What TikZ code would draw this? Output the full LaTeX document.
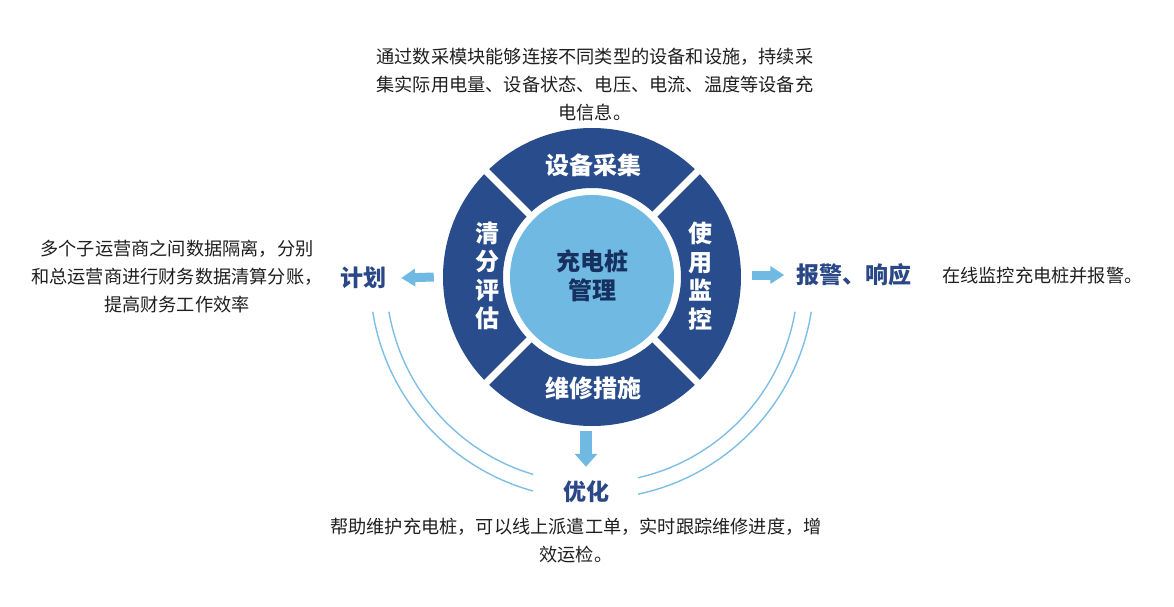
\documentclass[tikz,border=0pt]{standalone}
\usepackage{fontspec}
\setmainfont{Noto Sans CJK SC}
\usetikzlibrary{arrows.meta}

\definecolor{ringblau}{RGB}{40,76,140}
\definecolor{hellblau}{RGB}{112,185,226}
\definecolor{bogenblau}{RGB}{125,190,228}
\definecolor{titelblau}{RGB}{42,72,135}
\definecolor{kernblau}{RGB}{22,48,95}

\begin{document}
\begin{tikzpicture}[x=1pt,y=1pt,
    beschreibung/.style={align=center,inner sep=0pt,text=black!88,font=\fontsize{18.2}{28}\selectfont},
    titel/.style={inner sep=0pt,text=titelblau,font=\fontsize{23}{28}\selectfont\bfseries},
    ringtext/.style={align=center,inner sep=0pt,text=white,font=\fontsize{24}{28.5}\selectfont\bfseries},
    pfeil/.style={hellblau,line width=9pt,-{Triangle[length=14pt,width=17pt]}},
    bogen/.style={bogenblau,line width=1.4pt}]

    \useasboundingbox (-592,-329) rectangle (582,277);

    % Ring und Kern
    \node[circle,minimum size=298pt,inner sep=0pt] (ring) at (0,0) {};
    \fill[ringblau,even odd rule] (0,0) circle (149) (0,0) circle (89);
    \fill[hellblau] (0,0) circle (82);
    \foreach \w in {45,135,225,315} {
        \draw[white,line width=7pt] (\w:86) -- (\w:153);
    }

    % Segmente
    \node[ringtext] (erfassung) at (1,112) {设备采集};
    \node[ringtext] (wartung) at (1,-111) {维修措施};
    \node[ringtext] (abrechnung) at (-105,1) {清\\分\\评\\估};
    \node[ringtext] (monitor) at (108,1) {使\\用\\监\\控};
    \node[ringtext,text=kernblau] (kern) at (0,1) {充电桩\\管理};

    % Aussenpunkte
    \node[titel] (plan) at (-228,-1) {计划};
    \node[titel] (alarm) at (262,2) {报警、响应};
    \node[titel] (opt) at (-6,-215) {优化};

    % Pfeile
    \draw[pfeil] ([xshift=-9pt]ring.west) -- ([xshift=14pt]plan.east);
    \draw[pfeil] ([xshift=11pt,yshift=2pt]ring.east) -- ([xshift=-12pt]alarm.west);
    \draw[pfeil,line width=12pt,-{Triangle[length=13pt,width=22pt]}] ([xshift=-6pt,yshift=-5pt]ring.south) -- ([yshift=14pt]opt.north);

    % Boegen
    \draw[bogen] (189:222) arc[start angle=189,end angle=254.6,radius=222];
    \draw[bogen] (189.7:206) arc[start angle=189.7,end angle=253.4,radius=206];
    \draw[bogen] (-9:222) arc[start angle=-9,end angle=-78,radius=222];
    \draw[bogen] (-9.7:206) arc[start angle=-9.7,end angle=-77.1,radius=206];

    % Beschreibungen
    \node[beschreibung] (txtoben) at (3,192) {通过数采模块能够连接不同类型的设备和设施，持续采\\集实际用电量、设备状态、电压、电流、温度等设备充\\电信息。};
    \node[beschreibung] (txtlinks) at (-415,0) {多个子运营商之间数据隔离，分别\\和总运营商进行财务数据清算分账，\\提高财务工作效率};
    \node[beschreibung,anchor=west] (txtrechts) at (350,1) {在线监控充电桩并报警。};
    \node[beschreibung] (txtunten) at (-16,-264) {帮助维护充电桩，可以线上派遣工单，实时跟踪维修进度，增\\效运检。};
\end{tikzpicture}
\end{document}
